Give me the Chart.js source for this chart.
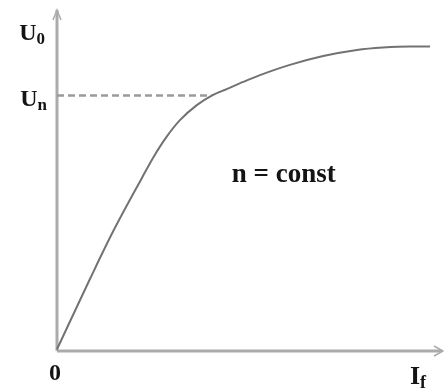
<!DOCTYPE html>
<html>
<head>
<meta charset="utf-8">
<script src="https://cdn.jsdelivr.net/npm/chart.js@4/dist/chart.umd.min.js"></script>
<style>
  html, body { margin: 0; padding: 0; background: #fff; }
  #wrap { width: 444px; height: 389px; }
</style>
</head>
<body>
<div id="wrap"><canvas id="myChart" width="444" height="389"></canvas></div>
<script>
// field current (arbitrary units) and no-load voltage
let curveX = [0, 8.6, 14.3, 22.1, 25.1, 28.6, 32.1, 36.5, 40.4, 44.3, 48.6, 53.0, 60.8, 69.5, 78.3, 85.1, 92.2, 97.4];
let curveY = [0.5, 21.1, 34.3, 50.6, 56.7, 62.8, 67.7, 72.1, 74.9, 76.8, 78.9, 80.9, 83.9, 86.5, 88.3, 89.0, 89.3, 89.3];
let ratedX = [0, 40.4];
let ratedY = [74.9, 74.9];
let axisMax = 100;
let labelU0 = 93.5;
let labelUn = 74.2;
let noteText = 'n = const';

let colors = {
    'curve': '#727272'
    , 'dash': '#9a9a9a'
    , 'axis': '#ababab'
    , 'text': '#141414'
}

const toPoints = (xs, ys) => {
    let out = [];
    for (let i = 0; i < xs.length; i++) {
        out.push({x: xs[i], y: ys[i]});
    }
    return out;
}

// text with a subscript
const subText = (ctx, main, sub, x, y, align, big, small) => {
    ctx.font = 'bold ' + big + 'px "Liberation Serif"';
    let w1 = ctx.measureText(main).width;
    ctx.font = 'bold ' + small + 'px "Liberation Serif"';
    let w2 = ctx.measureText(sub).width;
    let start = align === 'right' ? x - w1 - w2 : x;
    ctx.font = 'bold ' + big + 'px "Liberation Serif"';
    ctx.fillText(main, start, y);
    ctx.font = 'bold ' + small + 'px "Liberation Serif"';
    ctx.fillText(sub, start + w1, y + 4);
}

const axesPlugin = {
    id: 'axesPlugin',
    beforeDatasetsDraw(chart) {
        let ctx = chart.ctx;
        let a = chart.chartArea;
        ctx.save();
        ctx.strokeStyle = colors['axis'];
        ctx.lineWidth = 3;
        ctx.beginPath();
        ctx.moveTo(a.left, a.bottom);
        ctx.lineTo(a.left, a.top);
        ctx.moveTo(a.left, a.bottom);
        ctx.lineTo(a.right + 2, a.bottom);
        ctx.stroke();
        // arrow heads
        ctx.lineWidth = 1.5;
        ctx.beginPath();
        ctx.moveTo(a.left - 4, a.top + 10);
        ctx.lineTo(a.left, a.top);
        ctx.lineTo(a.left + 4, a.top + 10);
        ctx.moveTo(a.right - 6, a.bottom - 5);
        ctx.lineTo(a.right + 3, a.bottom);
        ctx.lineTo(a.right - 6, a.bottom + 5);
        ctx.stroke();
        ctx.restore();
    },
    afterDraw(chart) {
        let ctx = chart.ctx;
        let a = chart.chartArea;
        let ys = chart.scales.y;
        let xs = chart.scales.x;
        ctx.save();
        ctx.fillStyle = colors['text'];
        ctx.textBaseline = 'alphabetic';
        subText(ctx, 'U', '0', a.left - 12, ys.getPixelForValue(labelU0) + 8, 'right', 24, 17);
        subText(ctx, 'U', 'n', a.left - 10, ys.getPixelForValue(labelUn) + 8, 'right', 24, 17);
        ctx.font = 'bold 24px "Liberation Serif"';
        ctx.textAlign = 'center';
        ctx.fillText('0', xs.getPixelForValue(0) - 2, a.bottom + 29);
        ctx.textAlign = 'left';
        subText(ctx, 'I', 'f', a.right - 30, a.bottom + 33, 'left', 26, 18);
        ctx.font = 'bold 27px "Liberation Serif"';
        ctx.textAlign = 'center';
        ctx.fillText(noteText, xs.getPixelForValue(59.2), ys.getPixelForValue(49.6));
        ctx.restore();
    }
}

let ctx = document.getElementById('myChart').getContext('2d');
let myChart = new Chart(ctx, {
    type: 'scatter',
    data: {
        datasets: [
            {
                label: 'U0(If)',
                data: toPoints(curveX, curveY),
                showLine: true,
                borderColor: colors['curve'],
                borderWidth: 2,
                pointRadius: 0,
                cubicInterpolationMode: 'monotone',
                clip: false,
            },
            {
                label: 'Un',
                data: toPoints(ratedX, ratedY),
                showLine: true,
                borderColor: colors['dash'],
                borderWidth: 2.5,
                borderDash: [7, 4],
                pointRadius: 0,
                clip: false,
            },
        ]
    },
    options: {
        responsive: false,
        animation: false,
        layout: {padding: {left: 57, right: 4, top: 10, bottom: 38}},
        plugins: {legend: {display: false}, tooltip: {enabled: false}},
        scales: {
            x: {type: 'linear', min: 0, max: axisMax, display: false},
            y: {type: 'linear', min: 0, max: axisMax, display: false},
        }
    },
    plugins: [axesPlugin]
});
</script>
</body>
</html>
